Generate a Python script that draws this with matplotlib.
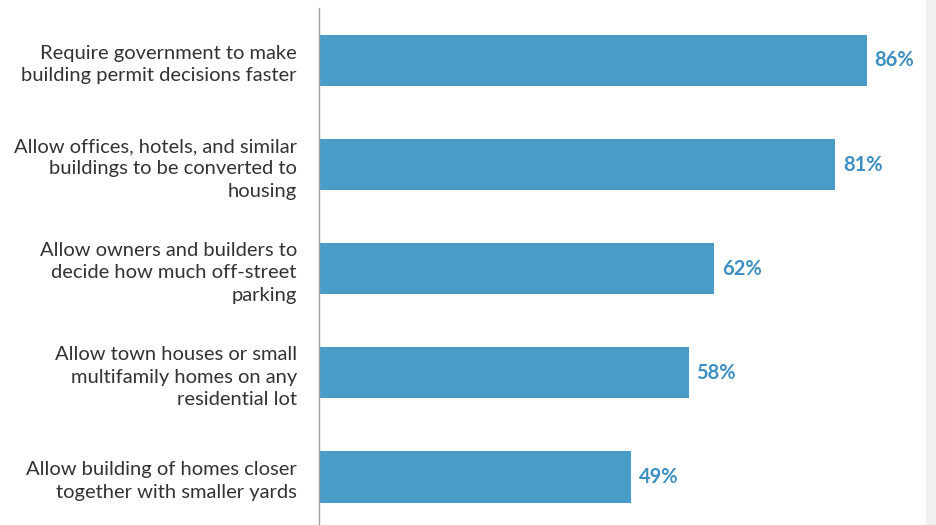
import matplotlib.pyplot as plt
from matplotlib.patches import Rectangle

categories = [
    "Require government to make\nbuilding permit decisions faster",
    "Allow offices, hotels, and similar\nbuildings to be converted to\nhousing",
    "Allow owners and builders to\ndecide how much off-street\nparking",
    "Allow town houses or small\nmultifamily homes on any\nresidential lot",
    "Allow building of homes closer\ntogether with smaller yards",
]
support = [86, 81, 62, 58, 49]

bar_color = "#4a9cc8"
label_color = "#3d8fc2"
text_color = "#333333"

plt.rcParams['font.family'] = ['Lato', 'DejaVu Sans']

fig = plt.figure(figsize=(9.36, 5.25), dpi=100)
ax = fig.add_axes([319/936, 0, (926-319)/936, 517/525])

pos = list(range(len(categories)))
ax.barh(pos, support, height=0.49, color=bar_color)
for p, v in zip(pos, support):
    ax.text(v + 1.2, p, f"{v}%", va='center', ha='left', fontsize=14.5,
            fontweight='bold', color=label_color)

ax.set_xlim(0, (926-319)/6.372)
ax.set_ylim(4.461, -0.504)
ax.set_yticks(pos)
ax.set_yticklabels(categories, fontsize=14.5, color=text_color, linespacing=1.38)
ax.tick_params(axis='y', length=0, pad=16)
ax.set_xticks([])
for s in ['top', 'right', 'bottom']:
    ax.spines[s].set_visible(False)
ax.spines['left'].set_color('#a0a0a0')
ax.spines['left'].set_linewidth(1)

# light strip at the right edge
fig.patches.append(Rectangle((926/936, 0), 10/936, 1, transform=fig.transFigure,
                             color='#f0f0f0', zorder=0))

plt.savefig("out.png", dpi=100)
